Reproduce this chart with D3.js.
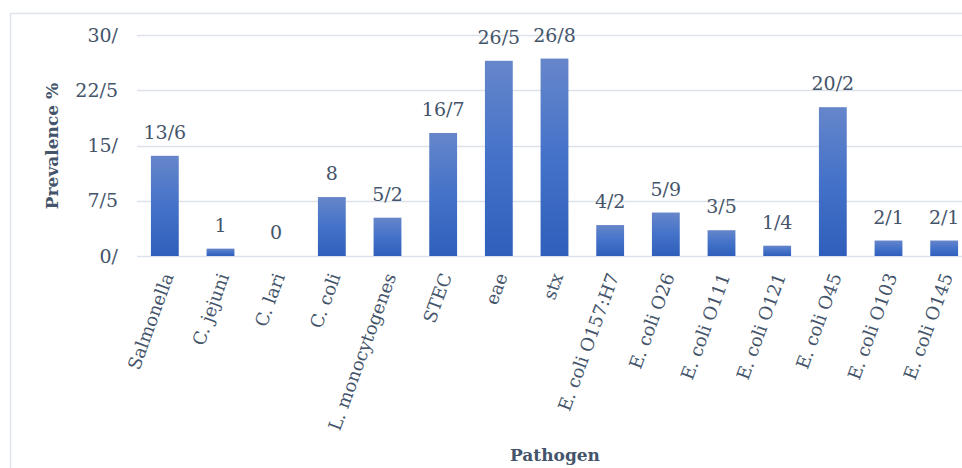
<!DOCTYPE html>
<html>
<head>
<meta charset="utf-8">
<script src="https://cdn.jsdelivr.net/npm/d3@7"></script>
<style>
  html, body { margin: 0; padding: 0; background: #fff; overflow: hidden; }
  svg { display: block; }
  text { font-family: "DejaVu Serif", "Liberation Serif", serif; fill: #44546a; }
</style>
</head>
<body>
<svg id="chart" width="962" height="468"></svg>
<script>
// Pathogen prevalence (%) data
const pathogens = ["Salmonella", "C. jejuni", "C. lari", "C. coli", "L. monocytogenes", "STEC", "eae", "stx",
  "E. coli O157:H7", "E. coli O26", "E. coli O111", "E. coli O121", "E. coli O45", "E. coli O103", "E. coli O145"];
const prevalence = [13.6, 1, 0, 8, 5.2, 16.7, 26.5, 26.8, 4.2, 5.9, 3.5, 1.4, 20.2, 2.1, 2.1];
const yTicks = [0, 7.5, 15, 22.5, 30];

// Decimal separator shown as "/"
const tickFmt = v => {
  const s = String(v);
  return s.includes(".") ? s.replace(".", "/") : s + "/";
};
const labelFmt = v => String(v).replace(".", "/");

const svg = d3.select("#chart");

// outer frame
svg.append("rect")
  .attr("x", 10.5).attr("y", 13.5)
  .attr("width", 1000).attr("height", 500)
  .attr("fill", "none").attr("stroke", "#dfe3ea").attr("stroke-width", 1.5);

const x = d3.scaleBand().domain(pathogens).range([137, 972]).paddingInner(0.5).paddingOuter(0.25);
const y = d3.scaleLinear().domain([0, 30]).range([256, 35]);

// gradient fill for bars
const defs = svg.append("defs");
const grad = defs.append("linearGradient").attr("id", "barGrad")
  .attr("x1", 0).attr("y1", 0).attr("x2", 0).attr("y2", 1);
grad.append("stop").attr("offset", "0%").attr("stop-color", "#6686ca");
grad.append("stop").attr("offset", "50%").attr("stop-color", "#4472c9");
grad.append("stop").attr("offset", "100%").attr("stop-color", "#2f5fbb");

// gridlines
svg.append("g")
  .selectAll("line")
  .data(yTicks)
  .join("line")
  .attr("x1", 137).attr("x2", 962)
  .attr("y1", d => Math.round(y(d)) + 0.5).attr("y2", d => Math.round(y(d)) + 0.5)
  .attr("stroke", "#dde2ea").attr("stroke-width", 1.5);

// y axis tick labels
const yAxis = d3.axisLeft(y).tickValues(yTicks).tickFormat(tickFmt).tickSize(0).tickPadding(0);
const gy = svg.append("g").attr("transform", "translate(118,0)").call(yAxis);
gy.select(".domain").remove();
gy.selectAll("text").style("font-size", "19px").attr("fill", "#44546a").style("font-family", "DejaVu Serif");

// bars
svg.append("g")
  .selectAll("rect")
  .data(pathogens)
  .join("rect")
  .attr("x", d => x(d))
  .attr("width", x.bandwidth())
  .attr("y", (d, i) => y(prevalence[i]))
  .attr("height", (d, i) => y(0) - y(prevalence[i]))
  .attr("fill", "url(#barGrad)");

// value labels
svg.append("g")
  .selectAll("text")
  .data(pathogens)
  .join("text")
  .attr("x", d => x(d) + x.bandwidth() / 2)
  .attr("y", (d, i) => y(prevalence[i]) - 17)
  .attr("text-anchor", "middle")
  .style("font-size", "19px")
  .text((d, i) => labelFmt(prevalence[i]));

// x axis category labels (rotated)
const xAxis = d3.axisBottom(x).tickSize(0).tickPadding(0);
const gx = svg.append("g").attr("transform", "translate(0,256)").call(xAxis);
gx.select(".domain").remove();
gx.selectAll("text")
  .style("font-size", "18px")
  .attr("fill", "#44546a")
  .style("font-family", "DejaVu Serif")
  .attr("text-anchor", "end")
  .attr("dy", null)
  .attr("y", 0)
  .attr("transform", "translate(9,20) rotate(-70)");

// axis titles
svg.append("text")
  .attr("transform", "translate(58,146) rotate(-90)")
  .attr("text-anchor", "middle")
  .style("font-size", "17px")
  .style("font-weight", "bold")
  .text("Prevalence %");

svg.append("text")
  .attr("x", 555).attr("y", 461)
  .attr("text-anchor", "middle")
  .style("font-size", "17px")
  .style("font-weight", "bold")
  .text("Pathogen");
</script>
</body>
</html>
